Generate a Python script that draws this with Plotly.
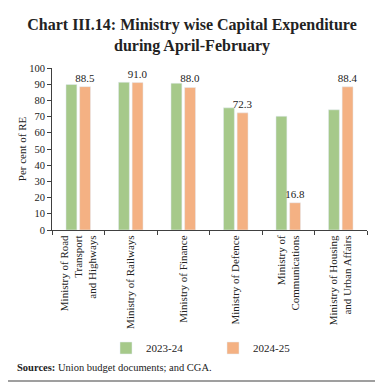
import plotly.graph_objects as go

categories = [
    "Ministry of Road<br>Transport<br>and Highways",
    "Ministry of Railways",
    "Ministry of Finance",
    "Ministry of Defence",
    "Ministry of<br>Communications",
    "Ministry of Housing<br>and Urban Affairs",
]
fy2324 = [89.8, 91.2, 90.6, 75.4, 70.2, 74.2]
fy2425 = [88.5, 91.0, 88.0, 72.3, 16.8, 88.4]
y_ticks = list(range(0, 101, 10))

GREEN = "#A6C98A"
ORANGE = "#F4B183"
FONT = "Liberation Serif"

fig = go.Figure()
fig.add_trace(go.Bar(x=categories, y=fy2324, name="2023-24", marker_color=GREEN))
fig.add_trace(go.Bar(
    x=categories, y=fy2425, name="2024-25", marker_color=ORANGE,
    text=[f"{v:.1f}" for v in fy2425], textposition="outside", constraintext="none",
    textfont=dict(family=FONT, size=11, color="#222"), cliponaxis=False,
))

# page body adds an 8px offset; positions below are given in screen pixels
OFF = 8
SW, SH = 383, 390
W, H = SW - OFF, SH - OFF
plot_left, plot_right, plot_top, plot_bottom = 52, 367, 68, 230
L, T = plot_left - OFF, plot_top - OFF
R, B = W - (plot_right - OFF), H - (plot_bottom - OFF)
pw, ph = plot_right - plot_left, plot_bottom - plot_top

def px_x(p):
    return (p - plot_left) / pw

def px_y(p):
    return (plot_bottom - p) / ph

def cy(p):
    return 1 - (p - OFF) / H

fig.update_layout(
    width=W, height=H,
    margin=dict(l=L, r=R, t=T, b=B, autoexpand=False),
    paper_bgcolor="white", plot_bgcolor="white",
    font=dict(family=FONT, size=11, color="#222"),
    barmode="group", bargap=0.48, bargroupgap=0.2,
    title=dict(
        text="<b>Chart III.14: Ministry wise Capital Expenditure<br>during April-February</b>",
        x=(192 - OFF) / W, xref="container", xanchor="center",
        y=cy(30), yref="container", yanchor="top",
        font=dict(family=FONT, size=16, color="#222"),
    ),
    showlegend=True,
    legend=dict(
        orientation="h", x=px_x(213), xanchor="center",
        y=cy(348), yref="container", yanchor="middle",
        entrywidth=62, entrywidthmode="pixels", itemwidth=30,
        font=dict(family=FONT, size=11, color="#222"),
    ),
    xaxis=dict(
        automargin=False,
        showline=True, linecolor="#404040", linewidth=1,
        ticks="outside", tickson="boundaries", ticklen=4, tickcolor="#404040",
        tickangle=-90, tickfont=dict(family=FONT, size=11, color="#222"),
    ),
    yaxis=dict(
        automargin=True,
        range=[0, 100], tickvals=y_ticks, showgrid=False, zeroline=False,
        showline=True, linecolor="#404040", linewidth=1,
        ticks="outside", ticklen=4, tickcolor="#404040",
        tickfont=dict(family=FONT, size=10.5, color="#222"),
        title=dict(text="Per cent of RE", font=dict(family=FONT, size=11, color="#222"), standoff=0),
    ),
    shapes=[dict(
        type="rect", xref="paper", yref="paper",
        x0=px_x(4), x1=px_x(377.5), y0=px_y(381), y1=px_y(5),
        line=dict(color="#808080", width=1.5), fillcolor="rgba(0,0,0,0)", layer="below",
    )],
    annotations=[dict(
        text="<b>Sources:</b> Union budget documents; and CGA.",
        xref="paper", yref="paper", x=px_x(15), y=px_y(367),
        xanchor="left", yanchor="middle", showarrow=False,
        font=dict(family=FONT, size=10.5, color="#222"),
    )],
)

fig.write_html("out.html")
